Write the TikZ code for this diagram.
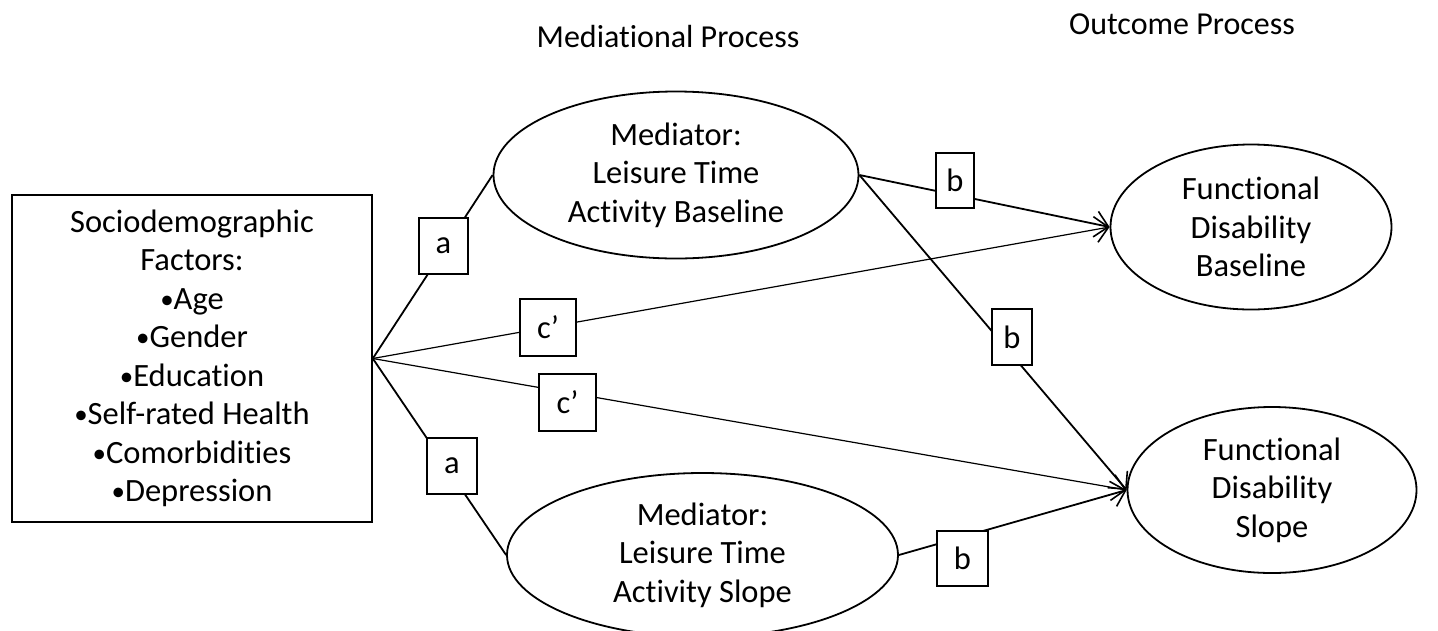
\documentclass[tikz,border=0pt]{standalone}
\usepackage{fontspec}
\setmainfont{Carlito}[Ligatures=NoCommon]
\usetikzlibrary{shapes.geometric,arrows.meta}
\newcommand\bulmark{{\fontsize{27}{27}\selectfont\raisebox{1pt}{•}}}
\begin{document}
\begin{tikzpicture}[x=1pt,y=-1pt,
  every node/.style={font=\fontsize{32.5}{38.5}\selectfont, align=center, inner sep=0pt},
  oval/.style={ellipse, draw, line width=1.8pt},
  lbl/.style={draw, fill=white, line width=1.6pt},
  conn/.style={line width=1.8pt},
  thinconn/.style={line width=1.2pt},
  tipend/.style={-{Straight Barb[length=13pt,width=26pt,line width=1.6pt]}},
  title/.style={font=\fontsize{32}{38}\selectfont, anchor=base}
]
\useasboundingbox (0,0) rectangle (1438,630);

% titles
\node[title] (t1) at (668,47) {Mediational Process};
\node[title] (t2) at (1182,34) {Outcome Process};

% main nodes
\node[draw, line width=1.6pt, minimum width=360pt, minimum height=327pt] (sd) at (192,358.5)
  {Sociodemographic\\Factors:\\\bulmark Age\\\bulmark Gender\\\bulmark Education\\\bulmark Self-rated Health\\\bulmark Comorbidities\\\bulmark Depression};
\node[oval, minimum width=365pt, minimum height=167pt] (m1) at (676,175)
  {Mediator:\\Leisure Time\\Activity Baseline};
\node[oval, minimum width=391pt, minimum height=164pt] (m2) at (702.5,555)
  {Mediator:\\Leisure Time\\Activity Slope};
\node[oval, minimum width=281pt, minimum height=165pt] (fb) at (1251,227)
  {Functional\\Disability\\Baseline};
\node[oval, minimum width=289pt, minimum height=166pt] (fs) at (1272,490)
  {Functional\\Disability\\Slope};

% connectors
\draw[conn] (sd.east) -- (m1.west);
\draw[conn] (sd.east) -- (m2.west);
\draw[thinconn, tipend] (sd.east) -- (fb.west);
\draw[thinconn, tipend] (sd.east) -- (fs.west);
\draw[conn, tipend] (m1.east) -- (fb.west);
\draw[conn, tipend] (m1.east) -- (fs.west);
\draw[conn, tipend] (m2.east) -- (fs.west);

% path labels
\node[lbl, minimum width=49pt, minimum height=56pt] (a1) at (443.5,246) {a};
\node[lbl, minimum width=50pt, minimum height=56pt] (a2) at (452,466) {a};
\node[lbl, minimum width=56pt, minimum height=57pt] (c1) at (548,327.5) {c’};
\node[lbl, minimum width=57pt, minimum height=57pt] (c2) at (567.5,402.5) {c’};
\node[lbl, minimum width=38pt, minimum height=55pt] (b1) at (955,180.5) {b};
\node[lbl, minimum width=40pt, minimum height=56pt] (b2) at (1012,337) {b};
\node[lbl, minimum width=51pt, minimum height=55pt] (b3) at (962.5,558.5) {b};
\end{tikzpicture}
\end{document}
